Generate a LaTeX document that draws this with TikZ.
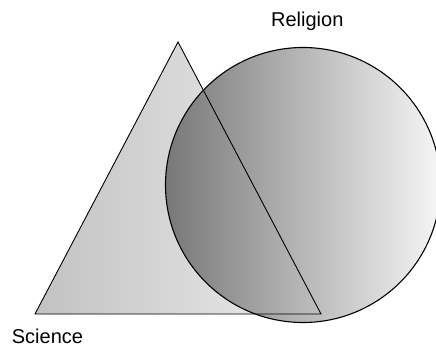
\documentclass[tikz,border=0pt]{standalone}
\usepackage{fontspec}
\setmainfont{Liberation Sans}
\definecolor{triL}{HTML}{C2C2C2}
\definecolor{triR}{HTML}{EDEDED}
\definecolor{cirL}{HTML}{787878}
\definecolor{cirR}{HTML}{F6F6F6}
\begin{document}
\begin{tikzpicture}[x=1pt,y=-1pt,
  lbl/.style={inner sep=0pt,font=\fontsize{20}{24}\selectfont},
  outline/.style={draw=black,line width=0.9pt,line join=miter}]
\useasboundingbox (0,0) rectangle (436,347);
\clip (0,0) rectangle (436,347);
\coordinate (A) at (35,314);
\coordinate (B) at (178,42);
\coordinate (C) at (321,314);
\coordinate (O) at (303,185);
\path[left color=triL,right color=triR] (A)--(B)--(C)--cycle;
\path[left color=cirL,right color=cirR] (O) circle[radius=137.5];
\draw[outline] (A)--(B)--(C)--cycle;
\draw[outline,line width=1.1pt] (O) circle[radius=137.5];
\node[lbl,anchor=base] (rel) at (307.3,26.7) {Religion};
\node[lbl,anchor=base west] (sci) at (11.7,343.3) {Science};
\end{tikzpicture}
\end{document}
